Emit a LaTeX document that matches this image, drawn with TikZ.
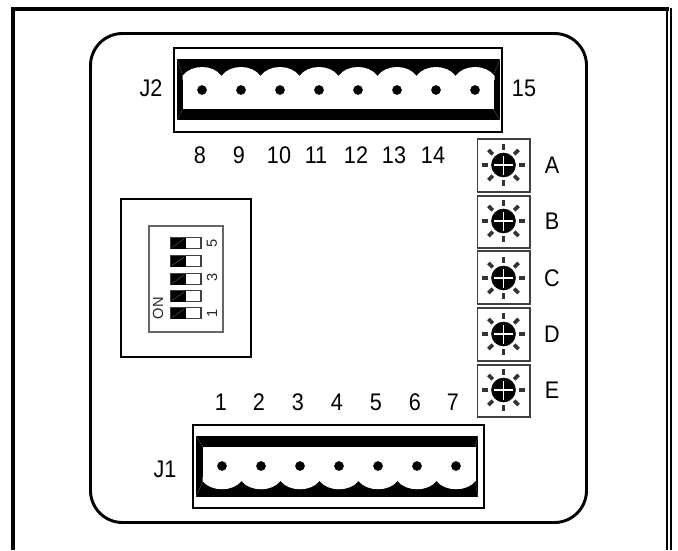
\documentclass[tikz,border=0pt]{standalone}
\usepackage{fontspec}
\setmainfont{Liberation Sans}
\usetikzlibrary{calc}

\tikzset{
    pinlabel/.style={font=\fontsize{18}{20}\selectfont,inner sep=0pt,xscale=0.9},
    diplabel/.style={font=\fontsize{11}{12}\selectfont,inner sep=0pt,rotate=90,text=black!85},
    thinbox/.style={draw=black!75,line width=0.8pt}
}

\begin{document}
\begin{tikzpicture}[x=0.75pt,y=-0.75pt]
    \useasboundingbox (0,0) rectangle (678,550);

    % Frame:
    \draw[line width=3pt] (13,550) -- (13,9) -- (669,9);
    \draw[line width=1.2pt] (667,7.5) -- (667,550);
    \draw[line width=1.2pt] (671,7.5) -- (671,550);

    % Board:
    \draw[line width=2.2pt,rounded corners=24] (90.5,33.5) rectangle (586.5,522.5);

    % J2, the upper connector
    \draw[line width=2pt] (174,48) rectangle (502,132);
    \fill[black] (177,59) rectangle (500,120);
    \draw[black!60,very thin] (177,59) -- (183,76) (177,120) -- (183,109) (500,59) -- (493,76) (500,120) -- (493,109);
    \fill[white] (182.5,76) rectangle (494,109);
    \foreach \x in {202,241,280,319,358,397,436,475} {
        % white hump on top of each pin
        \fill[white] (\x-19.5,80) -- (\x-19.5,76) .. controls (\x-11,64) and (\x+11,64) .. (\x+19.5,76) -- (\x+19.5,80) -- cycle;
        \filldraw[black] (\x,90) circle(4.5);
    }

    % J1, the lower connector
    \draw[line width=2pt] (193,425) rectangle (484,508);
    \fill[black] (196,436) rectangle (478,497);
    \draw[black!60,very thin] (196,436) -- (203,447) (196,497) -- (203,481) (478,436) -- (475,447) (478,497) -- (475,481);
    \fill[white] (202.5,447) rectangle (475.5,481);
    \foreach \x in {222,261,300,339,378,417,456} {
        \fill[white] (\x-19.5,477) -- (\x-19.5,481) .. controls (\x-11,492) and (\x+11,492) .. (\x+19.5,481) -- (\x+19.5,477) -- cycle;
        \filldraw[black] (\x,466) circle(4.5);
    }

    % Labels of the pins
    \node[pinlabel] (labJ2) at (151,88) {J2};
    \node[pinlabel] (labJ1) at (165,469) {J1};
    \node[pinlabel] (pin15) at (524,88) {15};
    \foreach \x/\xtext in {200/8,239/9,279/10,316/11,356/12,394/13,433/14}
        \node[pinlabel] (pin\xtext) at (\x,155) {\xtext};
    \foreach \x/\xtext in {221/1,259/2,298/3,337/4,376/5,415/6,453/7}
        \node[pinlabel] (pin\xtext) at (\x,402) {\xtext};

    % DIP switch
    \draw[line width=2pt] (121,199) rectangle (251,357);
    \draw[thinbox,draw=black!60] (149,226) rectangle (223,332);
    \foreach \y in {243,261,279,296,313} {
        \draw[thinbox] (171,\y-5.5) rectangle (201,\y+5.5);
        \fill[black] (171,\y-5.5) rectangle (186,\y+5.5);
        \draw[gray,very thin] (172,\y+4.5) -- (184,\y-4);
    }
    \node[diplabel] (dip5) at (212,243) {5};
    \node[diplabel] (dip3) at (212,277) {3};
    \node[diplabel] (dip1) at (212,313) {1};
    \node[diplabel] (dipon) at (158,308) {ON};

    % Rotary switches
    \foreach \y/\ytop/\ybot/\ytext in {165/139/192/A,221/196/248/B,278/251/304/C,334/308/361/D,390/365/417/E} {
        \draw[thinbox] (477.5,\ytop) rectangle (530,\ybot);
        \filldraw[black] (503.5,\y) circle(12);
        \draw[white,line width=1.1pt] (494,\y) -- (513,\y) (503.5,\y-9.5) -- (503.5,\y+9.5);
        \foreach \a in {0,45,...,315}
            \draw[black!80,line width=2.8pt] ($(503.5,\y)+(\a:11.3pt)$) -- ($(503.5,\y)+(\a:16pt)$);
        \node[pinlabel] (lab\ytext) at (552,\y) {\ytext};
    }
\end{tikzpicture}
\end{document}
